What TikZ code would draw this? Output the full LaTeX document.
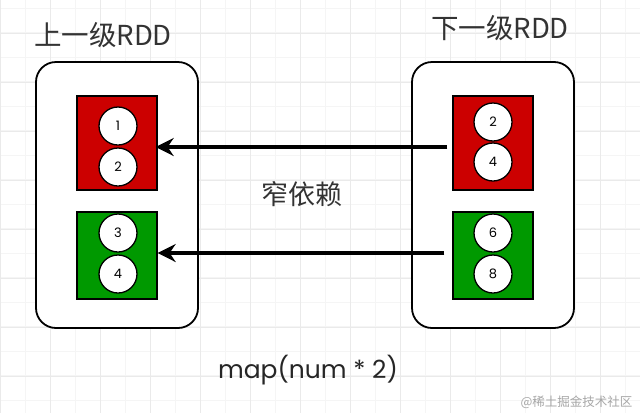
\documentclass[tikz,border=0pt]{standalone}
\usepackage{fontspec}
\setmainfont{Poppins}
\newfontfamily\cjk{Noto Sans CJK SC}
\usetikzlibrary{arrows.meta}
\definecolor{rddred}{RGB}{204,0,0}
\definecolor{rddgreen}{RGB}{0,153,0}
\definecolor{gridminor}{RGB}{245,245,245}
\definecolor{gridmajor}{RGB}{234,234,234}
\tikzset{
  container/.style={draw=black, line width=1.8pt, fill=white, rounded corners=20pt, minimum width=162pt, minimum height=266pt, inner sep=0pt},
  partred/.style={draw=black, line width=1.3pt, fill=rddred, minimum width=80pt, minimum height=94pt, inner sep=0pt},
  partgreen/.style={draw=black, line width=1.3pt, fill=rddgreen, minimum width=80pt, minimum height=87pt, inner sep=0pt},
  elem/.style={circle, draw=black, line width=1.3pt, fill=white, minimum size=38pt, inner sep=0pt, font=\fontsize{13}{13}\selectfont},
  dep/.style={line width=3.6pt, -{Stealth[length=18pt, width=18pt, inset=6pt]}},
  title/.style={font=\cjk\fontsize{27.5}{27.5}\selectfont, text=black!80},
}
\begin{document}
\begin{tikzpicture}[x=1pt, y=-1pt]
  \useasboundingbox (0,0) rectangle (640,413);
  \fill[white] (0,0) rectangle (640,413);
  \foreach \i in {0,...,26} { \draw[gridminor, line width=1pt] (\i*25, 0) -- (\i*25, 413); }
  \foreach \j in {0,...,17} { \draw[gridminor, line width=1pt] (0, 8+\j*24.5) -- (640, 8+\j*24.5); }
  \foreach \i in {0,...,13} { \draw[gridmajor, line width=1pt] (\i*50, 0) -- (\i*50, 413); }
  \foreach \j in {0,...,8} { \draw[gridmajor, line width=1pt] (0, 33+\j*49) -- (640, 33+\j*49); }

  \node[title] (tl) at (103,35) {上一级RDD};
  \node[title] (tr) at (500,28) {下一级RDD};

  \node[container] (cl) at (117,195) {};
  \node[container] (cr) at (493,195) {};

  \node[partred] (lr) at (117,143) {};
  \node[partgreen] (lg) at (117,255.5) {};
  \node[partred] (rr) at (493,143) {};
  \node[partgreen] (rg) at (493,255.5) {};

  \node[elem] (l1) at (118,126) {1};
  \node[elem] (l2) at (118,167) {2};
  \node[elem] (l3) at (118,233) {3};
  \node[elem] (l4) at (118,274) {4};
  \node[elem] (r2) at (493,122) {2};
  \node[elem] (r4) at (493,162) {4};
  \node[elem] (r6) at (493,233) {6};
  \node[elem] (r8) at (493,274) {8};

  \draw[dep, shorten <=5pt, shorten >=-2pt] ([yshift=-4pt]rr.west) -- ([yshift=-4pt]lr.east);
  \draw[dep, shorten <=8pt, shorten >=0pt] ([yshift=2.5pt]rg.west) -- ([yshift=2.5pt]lg.east);

  \node[font=\cjk\fontsize{27}{27}\selectfont, text=black!80] (nd) at (302,194) {窄依赖};
  \node[font=\fontsize{25}{25}\selectfont, text=black!85] (mp) at (308,370) {map(num * 2)};
  \node[font=\cjk\fontsize{12.5}{12.5}\selectfont, text=black!35, anchor=east] (wm) at (636,402) {@稀土掘金技术社区};
\end{tikzpicture}
\end{document}
